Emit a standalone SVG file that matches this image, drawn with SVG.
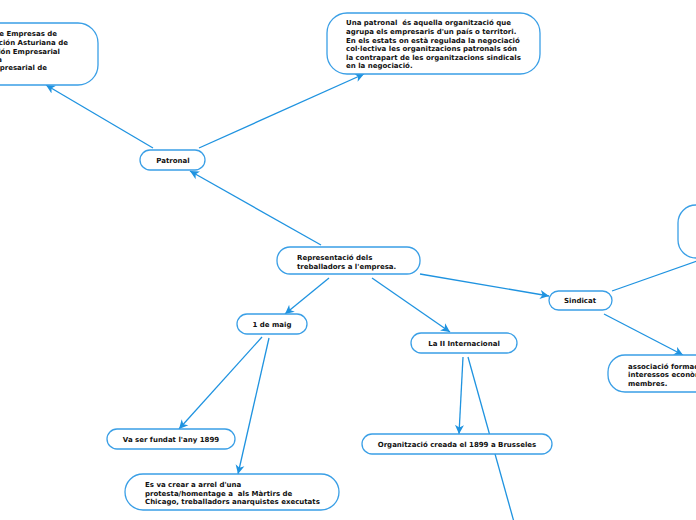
<svg xmlns="http://www.w3.org/2000/svg" width="696" height="520" viewBox="0 0 696 520">
<style>
.n{fill:#fff;stroke:#3a9fe6;stroke-width:1.3}
.t{font-family:"DejaVu Sans",Verdana,sans-serif;font-weight:bold;font-size:7px;fill:#111}
.c{fill:none;stroke:#1f93e0;stroke-width:1.3}
</style>
<defs>
<marker id="a" markerUnits="userSpaceOnUse" markerWidth="10" markerHeight="10" refX="9" refY="5" orient="auto">
<path d="M0,0.5 L9,5 L0,9.5 L2.5,5 z" fill="#1f93e0"/>
</marker>
</defs>
<rect width="696" height="520" fill="#fff"/>
<g id="connectors">
<line class="c" x1="153" y1="148" x2="46" y2="85" marker-end="url(#a)"/>
<line class="c" x1="199" y1="148" x2="364" y2="74" marker-end="url(#a)"/>
<line class="c" x1="321" y1="245" x2="190" y2="171" marker-end="url(#a)"/>
<line class="c" x1="420" y1="274" x2="549" y2="296" marker-end="url(#a)"/>
<line class="c" x1="329" y1="278" x2="285" y2="314" marker-end="url(#a)"/>
<line class="c" x1="372" y1="278" x2="450" y2="332" marker-end="url(#a)"/>
<line class="c" x1="612" y1="291" x2="700" y2="260"/>
<line class="c" x1="604" y1="314" x2="683" y2="355" marker-end="url(#a)"/>
<line class="c" x1="262" y1="337" x2="179" y2="429" marker-end="url(#a)"/>
<line class="c" x1="269" y1="338" x2="238" y2="474" marker-end="url(#a)"/>
<line class="c" x1="463" y1="357" x2="459" y2="434" marker-end="url(#a)"/>
<line class="c" x1="468" y1="357" x2="514" y2="522"/>
</g>
<g id="n-empresas">
<rect class="n" x="-40" y="23" width="138" height="62" rx="20"/>
<text class="t" text-anchor="end"><tspan x="57" y="36">Federación de Empresas de</tspan><tspan x="68" y="45">la Federación Asturiana de</tspan><tspan x="60" y="54">Confederación Empresarial</tspan><tspan x="2" y="62">Asturiana</tspan><tspan x="47" y="70">Organización Empresarial de</tspan></text>
</g>
<g id="n-patronal-desc">
<rect class="n" x="327" y="13" width="213" height="61" rx="20"/>
<text class="t" xml:space="preserve"><tspan x="346" y="25">Una patronal  és aquella organització que</tspan><tspan x="346" y="34">agrupa els empresaris d'un país o territori.</tspan><tspan x="346" y="43">En els estats on està regulada la negociació</tspan><tspan x="346" y="51">col·lectiva les organitzacions patronals són</tspan><tspan x="346" y="60">la contrapart de les organitzacions sindicals</tspan><tspan x="346" y="68">en la negociació.</tspan></text>
</g>
<g id="n-patronal">
<rect class="n" x="140" y="150" width="65" height="20" rx="10"/>
<text class="t" x="173" y="163" text-anchor="middle">Patronal</text>
</g>
<g id="n-representacio">
<rect class="n" x="277" y="247" width="143" height="27" rx="13"/>
<text class="t"><tspan x="297" y="260">Representació dels</tspan><tspan x="297" y="269">treballadors a l'empresa.</tspan></text>
</g>
<g id="n-topright">
<rect class="n" x="678" y="205" width="60" height="53" rx="18"/>
</g>
<g id="n-sindicat">
<rect class="n" x="549" y="291" width="63" height="19" rx="9.5"/>
<text class="t" x="580" y="303" text-anchor="middle">Sindicat</text>
</g>
<g id="n-associacio">
<rect class="n" x="608" y="355" width="120" height="37" rx="17"/>
<text class="t"><tspan x="628" y="369">associació formada per defensar els</tspan><tspan x="628" y="377">interessos econòmics dels seus</tspan><tspan x="628" y="386">membres.</tspan></text>
</g>
<g id="n-maig">
<rect class="n" x="237" y="314" width="70" height="20" rx="10"/>
<text class="t" x="272" y="327" text-anchor="middle">1 de maig</text>
</g>
<g id="n-internacional">
<rect class="n" x="411" y="333" width="106" height="20" rx="10"/>
<text class="t" x="464" y="346" text-anchor="middle">La II Internacional</text>
</g>
<g id="n-fundat">
<rect class="n" x="107" y="429" width="128" height="20" rx="10"/>
<text class="t" x="171" y="442" text-anchor="middle">Va ser fundat l'any 1899</text>
</g>
<g id="n-organitzacio">
<rect class="n" x="362" y="434" width="190" height="20" rx="10"/>
<text class="t" x="457" y="447" text-anchor="middle">Organització creada el 1899 a Brusseles</text>
</g>
<g id="n-crear">
<rect class="n" x="125" y="474" width="214" height="36" rx="18"/>
<text class="t" xml:space="preserve"><tspan x="145" y="487">Es va crear a arrel d'una</tspan><tspan x="145" y="496">protesta/homentage a  als Màrtirs de</tspan><tspan x="145" y="504">Chicago, treballadors anarquistes executats</tspan></text>
</g>
</svg>
